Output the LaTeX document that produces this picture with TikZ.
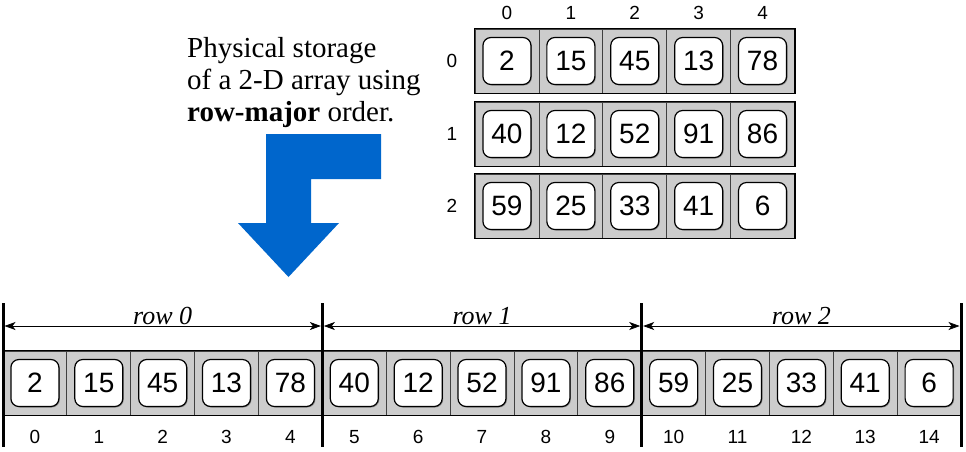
\documentclass[tikz,border=0pt]{standalone}
\usepackage{fontspec}
\setmainfont{Liberation Serif}
\newfontfamily\cellfont{Liberation Sans}
\usetikzlibrary{calc,arrows.meta,shadows}
\definecolor{arrowblue}{RGB}{0,102,204}
\tikzset{
	slot/.style={draw=black!75, fill=black!20, line width=0.8pt, minimum width=63.9pt, minimum height=64pt, inner sep=0pt},
	valbox/.style={draw=black, fill=white, rounded corners=8pt, line width=1.2pt, minimum width=48pt, minimum height=47pt, inner sep=0pt,
		drop shadow={shadow xshift=1pt, shadow yshift=-1pt, fill=black!45, opacity=1}, font=\cellfont\fontsize{28}{28}\selectfont},
	idx/.style={inner sep=0pt, font=\cellfont\fontsize{19}{19}\selectfont},
	rowline/.style={draw=black, line width=1.5pt},
	sepline/.style={line width=3pt},
	dimline/.style={line width=0.7pt, {Stealth[length=11pt,width=8pt,inset=3pt]}-{Stealth[length=11pt,width=8pt,inset=3pt]}, shorten <=1.5pt, shorten >=1.5pt},
	rowlabel/.style={midway, anchor=south, inner sep=1pt, font=\fontsize{26}{26}\selectfont\itshape},
	note/.style={anchor=north west, inner sep=0pt, align=left, font=\fontsize{29}{32}\selectfont}
}
\def\arrcell[#1](#2)#3{\node[slot] (#1) at (#2) {}; \node[valbox] (#1v) at (#1) {#3};}

\begin{document}
\begin{tikzpicture}[x=1pt, y=-1pt]
	%%%%% START %%%%%
	\useasboundingbox (0,0) rectangle (966,451);
	
	\node[note] (caption) at (187,37) {Physical storage\\of a 2-D array using\\\textbf{row-major} order.};
	
	\fill[arrowblue] (381,134) -- (266,134) -- (266,223) -- (238,223) -- (288.5,277) -- (339,223) -- (311,223) -- (311,179) -- (381,179) -- cycle;
	
	% 2-D array
	\node[idx] (col0) at (506.95,13) {0};
	\node[idx] (col1) at (570.85,13) {1};
	\node[idx] (col2) at (634.75,13) {2};
	\node[idx] (col3) at (698.65,13) {3};
	\node[idx] (col4) at (762.55,13) {4};
	
	\node[idx] (row0) at (452,61) {0};
	\node[idx] (row1) at (452,134) {1};
	\node[idx] (row2) at (452,206) {2};
	
	\arrcell[t00](506.95,61){2}
	\arrcell[t01](570.85,61){15}
	\arrcell[t02](634.75,61){45}
	\arrcell[t03](698.65,61){13}
	\arrcell[t04](762.55,61){78}
	\draw[rowline] (t00.north west) rectangle (t04.south east);
	
	\arrcell[t10](506.95,134){40}
	\arrcell[t11](570.85,134){12}
	\arrcell[t12](634.75,134){52}
	\arrcell[t13](698.65,134){91}
	\arrcell[t14](762.55,134){86}
	\draw[rowline] (t10.north west) rectangle (t14.south east);
	
	\arrcell[t20](506.95,206){59}
	\arrcell[t21](570.85,206){25}
	\arrcell[t22](634.75,206){33}
	\arrcell[t23](698.65,206){41}
	\arrcell[t24](762.55,206){6}
	\draw[rowline] (t20.north west) rectangle (t24.south east);
	
	% 1-D storage
	\arrcell[b0](34.9,383){2}
	\arrcell[b1](98.8,383){15}
	\arrcell[b2](162.7,383){45}
	\arrcell[b3](226.5,383){13}
	\arrcell[b4](290.4,383){78}
	\arrcell[b5](354.3,383){40}
	\arrcell[b6](418.2,383){12}
	\arrcell[b7](482.0,383){52}
	\arrcell[b8](545.9,383){91}
	\arrcell[b9](609.8,383){86}
	\arrcell[b10](673.6,383){59}
	\arrcell[b11](737.5,383){25}
	\arrcell[b12](801.4,383){33}
	\arrcell[b13](865.2,383){41}
	\arrcell[b14](929.1,383){6}
	\draw[rowline] (b0.north west) rectangle (b14.south east);
	
	\node[idx] (i0) at ($(b0)+(0,54)$) {0};
	\node[idx] (i1) at ($(b1)+(0,54)$) {1};
	\node[idx] (i2) at ($(b2)+(0,54)$) {2};
	\node[idx] (i3) at ($(b3)+(0,54)$) {3};
	\node[idx] (i4) at ($(b4)+(0,54)$) {4};
	\node[idx] (i5) at ($(b5)+(0,54)$) {5};
	\node[idx] (i6) at ($(b6)+(0,54)$) {6};
	\node[idx] (i7) at ($(b7)+(0,54)$) {7};
	\node[idx] (i8) at ($(b8)+(0,54)$) {8};
	\node[idx] (i9) at ($(b9)+(0,54)$) {9};
	\node[idx] (i10) at ($(b10)+(0,54)$) {10};
	\node[idx] (i11) at ($(b11)+(0,54)$) {11};
	\node[idx] (i12) at ($(b12)+(0,54)$) {12};
	\node[idx] (i13) at ($(b13)+(0,54)$) {13};
	\node[idx] (i14) at ($(b14)+(0,54)$) {14};
	
	\draw[sepline] (3,303) -- (3,447);
	\draw[sepline] (322.35,303) -- (322.35,447);
	\draw[sepline] (641.7,303) -- (641.7,447);
	\draw[sepline] (961,303) -- (961,447);
	
	\coordinate (d0) at (3,326);
	\coordinate (d1) at (322.35,326);
	\coordinate (d2) at (641.7,326);
	\coordinate (d3) at (961,326);
	\draw[dimline] (d0) -- (d1) node[rowlabel] {row 0};
	\draw[dimline] (d1) -- (d2) node[rowlabel] {row 1};
	\draw[dimline] (d2) -- (d3) node[rowlabel] {row 2};
	
	%%%%% END %%%%%
\end{tikzpicture}
\end{document}
